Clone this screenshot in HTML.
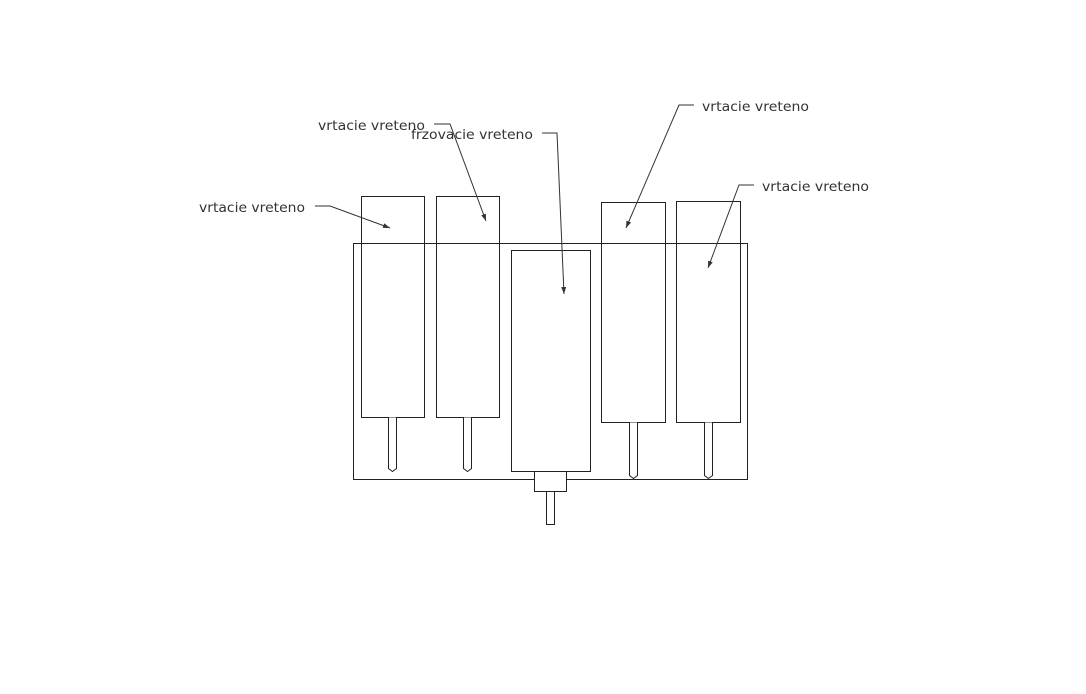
<!DOCTYPE html>
<html><head><style>body{margin:0;background:#fff}svg{display:block}text{font-family:"DejaVu Sans","Liberation Sans",sans-serif;font-size:13.5px;fill:#333}</style></head>
<body>
<svg width="1086" height="694" viewBox="0 0 1086 694" xmlns="http://www.w3.org/2000/svg">
<defs><marker id="a" markerWidth="7" markerHeight="5" refX="7" refY="2.5" orient="auto" markerUnits="userSpaceOnUse"><path d="M0,0 L7,2.5 L0,5z" fill="#333"/></marker></defs>
<g fill="#fff" stroke="#222" stroke-width="1">
<rect x="353.5" y="243.5" width="394" height="236"/>
<rect x="361.5" y="196.5" width="63" height="221" fill="none"/>
<rect x="436.5" y="196.5" width="63" height="221" fill="none"/>
<rect x="511.5" y="250.5" width="79" height="221"/>
<rect x="601.5" y="202.5" width="64" height="220" fill="none"/>
<rect x="676.5" y="201.5" width="64" height="221" fill="none"/>
<path d="M388.5,417.5 V468.5 L392.5,471.5 L396.5,468.5 V417.5"/>
<path d="M463.5,417.5 V468.5 L467.5,471.5 L471.5,468.5 V417.5"/>
<path d="M629.5,422.5 V475.5 L633.5,478.5 L637.5,475.5 V422.5"/>
<path d="M704.5,422.5 V475.5 L708.5,478.5 L712.5,475.5 V422.5"/>
<rect x="534.5" y="471.5" width="32" height="20"/>
<rect x="546.5" y="491.5" width="8" height="33"/>
</g>
<g fill="none" stroke="#333" stroke-width="1">
<path d="M315,206 H330 L390,228" marker-end="url(#a)"/>
<path d="M434,124 H450 L486,221" marker-end="url(#a)"/>
<path d="M542,133 H557 L564,294" marker-end="url(#a)"/>
<path d="M694,105 H679 L626,228" marker-end="url(#a)"/>
<path d="M754,185 H739 L708,268" marker-end="url(#a)"/>
</g>
<text x="199" y="212" textLength="106" lengthAdjust="spacingAndGlyphs">vrtacie vreteno</text>
<text x="318" y="130" textLength="107" lengthAdjust="spacingAndGlyphs">vrtacie vreteno</text>
<text x="411" y="139" textLength="122" lengthAdjust="spacingAndGlyphs">frzovacie vreteno</text>
<text x="702" y="111" textLength="107" lengthAdjust="spacingAndGlyphs">vrtacie vreteno</text>
<text x="762" y="191" textLength="107" lengthAdjust="spacingAndGlyphs">vrtacie vreteno</text>
</svg>
</body></html>
